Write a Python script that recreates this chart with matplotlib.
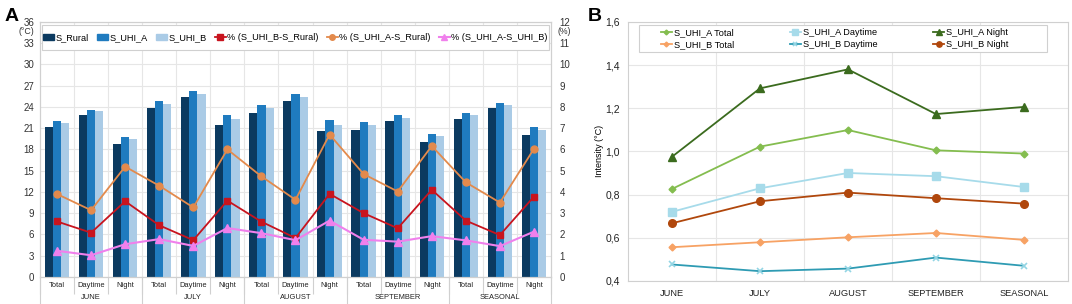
import numpy as np
import matplotlib
matplotlib.use('Agg')
import matplotlib.pyplot as plt
import matplotlib.transforms as mtransforms
from matplotlib.ticker import FuncFormatter
from matplotlib.patches import Patch, Rectangle
from matplotlib.lines import Line2D

plt.rcParams['font.family'] = ['Liberation Sans', 'DejaVu Sans']
plt.rcParams['font.size'] = 7

# --- data, panel A ---
months = ['JUNE', 'JULY', 'AUGUST', 'SEPTEMBER', 'SEASONAL']
periods = ['Total', 'Daytime', 'Night']
s_rural = [21.2, 22.9, 18.8, 23.8, 25.4, 21.5, 23.1, 24.9, 20.6, 20.8, 22.0, 19.1, 22.3, 23.8, 20.0]
s_uhi_a = [22.0, 23.6, 19.8, 24.8, 26.2, 22.8, 24.2, 25.8, 22.1, 21.8, 22.8, 20.2, 23.2, 24.6, 21.2]
s_uhi_b = [21.7, 23.4, 19.5, 24.4, 25.8, 22.3, 23.8, 25.4, 21.4, 21.4, 22.5, 19.9, 22.8, 24.3, 20.8]
pct_b_rural = [2.61, 2.08, 3.56, 2.43, 1.73, 3.59, 2.60, 1.83, 3.91, 3.00, 2.29, 4.10, 2.65, 1.97, 3.78]
pct_a_rural = [3.90, 3.14, 5.19, 4.29, 3.27, 6.00, 4.73, 3.63, 6.70, 4.84, 4.02, 6.16, 4.45, 3.50, 6.03]
pct_a_b = [1.23, 1.02, 1.54, 1.78, 1.46, 2.30, 2.06, 1.73, 2.65, 1.75, 1.66, 1.92, 1.72, 1.45, 2.13]

# --- data, panel B ---
a_total = [0.826, 1.022, 1.099, 1.005, 0.990]
a_day = [0.720, 0.829, 0.900, 0.885, 0.835]
a_night = [0.975, 1.292, 1.380, 1.173, 1.206]
b_total = [0.556, 0.579, 0.602, 0.622, 0.590]
b_day = [0.476, 0.445, 0.457, 0.508, 0.470]
b_night = [0.667, 0.769, 0.809, 0.783, 0.758]

grid_c = '#e6e6e6'
frame_c = '#d0d0d0'

fig = plt.figure(figsize=(10.72, 3.04), dpi=100)

# ---------------- panel A ----------------
ax = fig.add_axes([0.0373, 0.089, 0.4767, 0.839])
n = len(s_rural)
x = np.arange(n)
w = 0.24
ax.bar(x - w, s_rural, w, color='#0b3a60', zorder=2)
ax.bar(x, s_uhi_a, w, color='#1f7bbf', zorder=2)
ax.bar(x + w, s_uhi_b, w, color='#aacbe6', zorder=2)
ax.set_xlim(-0.5, n - 0.5)
ax.set_ylim(0, 36)
ax.set_yticks(np.arange(0, 37, 3))
ax.grid(axis='y', color=grid_c, lw=0.8, zorder=0)
for b in np.arange(0.5, n - 0.5, 1):
    ax.axvline(b, color=grid_c, lw=0.8, zorder=0)
for s in ax.spines.values():
    s.set_color(frame_c)
ax.tick_params(axis='y', length=0, pad=4, labelsize=7, colors='#333333')
ax.set_xticks(x)
ax.set_xticklabels(periods * len(months), fontsize=5.4)
ax.tick_params(axis='x', length=0, pad=4, colors='#222222')
ax.set_xticks(np.arange(-0.5, n, 1), minor=True)
ax.tick_params(axis='x', which='minor', length=12, color=frame_c, width=0.8)
trans = mtransforms.blended_transform_factory(ax.transData, ax.transAxes)
for i, m in enumerate(months):
    ax.text(3 * i + 1, -0.08, m, transform=trans, ha='center', va='center', fontsize=5.4, color='#222222')
for b in np.arange(-0.5, n, 3):
    ax.plot([b, b], [0, -0.11], transform=trans, color=frame_c, lw=0.8, clip_on=False)
ax.text(-0.012, 0.963, '(°C)', transform=ax.transAxes, ha='right', va='center', fontsize=6.3, color='#333333')

ax2 = ax.twinx()
ax2.set_ylim(0, 12)
ax2.set_yticks(np.arange(0, 13, 1))
ax2.tick_params(axis='y', length=0, pad=6, labelsize=7, colors='#333333')
for s in ax2.spines.values():
    s.set_color(frame_c)
ax2.plot(x, pct_b_rural, color='#c8141e', lw=1.3, marker='s', ms=5, zorder=3)
ax2.plot(x, pct_a_rural, color='#e38a4c', lw=1.3, marker='o', ms=5, zorder=3)
ax2.plot(x, pct_a_b, color='#f080ec', lw=1.5, marker='^', ms=6, zorder=3)
ax2.text(1.012, 0.963, '(%)', transform=ax2.transAxes, ha='left', va='center', fontsize=6.3, color='#333333')

# legend box for panel A
ax2.add_patch(Rectangle((0.004, 0.890), 0.992, 0.098, transform=ax2.transAxes,
                        facecolor='white', edgecolor=frame_c, lw=0.8, zorder=4))
handles_a = [Patch(color='#0b3a60'), Patch(color='#1f7bbf'), Patch(color='#aacbe6'),
             Line2D([], [], color='#c8141e', marker='s', ms=4, lw=1.3),
             Line2D([], [], color='#e38a4c', marker='o', ms=4, lw=1.3),
             Line2D([], [], color='#f080ec', marker='^', ms=5, lw=1.5)]
labels_a = ['S_Rural', 'S_UHI_A', 'S_UHI_B', '% (S_UHI_B-S_Rural)', '% (S_UHI_A-S_Rural)', '% (S_UHI_A-S_UHI_B)']
leg = ax2.legend(handles_a, labels_a, ncol=6, loc='center', bbox_to_anchor=(0.5, 0.939),
                 fontsize=6.6, frameon=False, handlelength=1.2, handletextpad=0.15,
                 columnspacing=0.9, borderpad=0, borderaxespad=0)

fig.text(0.004, 0.975, 'A', fontsize=14, fontweight='bold', va='top', ha='left')

# ---------------- panel B ----------------
bx = fig.add_axes([0.5858, 0.076, 0.4104, 0.852])
xm = np.arange(len(months))
bx.plot(xm, a_total, color='#84bd4f', lw=1.3, marker='D', ms=3.5, label='S_UHI_A Total')
bx.plot(xm, b_total, color='#f7a264', lw=1.3, marker='D', ms=3.5, label='S_UHI_B Total')
bx.plot(xm, a_day, color='#a7dbea', lw=1.3, marker='s', ms=5.5, label='S_UHI_A Daytime')
bx.plot(xm, b_day, color='#2e9bb3', lw=1.3, marker='x', ms=5, mec='#93d5e4', mew=1.2, label='S_UHI_B Daytime')
bx.plot(xm, a_night, color='#3b6b1e', lw=1.3, marker='^', ms=5.5, label='S_UHI_A Night')
bx.plot(xm, b_night, color='#b0470c', lw=1.3, marker='o', ms=5.5, label='S_UHI_B Night')
bx.set_xlim(-0.5, len(months) - 0.5)
bx.set_ylim(0.4, 1.6)
bx.set_yticks(np.arange(0.4, 1.61, 0.2))
bx.yaxis.set_major_formatter(FuncFormatter(lambda v, p: f'{v:.1f}'.replace('.', ',')))
bx.set_xticks(xm)
bx.set_xticklabels(months, fontsize=6.7)
bx.grid(axis='y', color=grid_c, lw=0.8, zorder=0)
for b in np.arange(0.5, len(months) - 0.5, 1):
    bx.axvline(b, color=grid_c, lw=0.8, zorder=0)
for s in bx.spines.values():
    s.set_color(frame_c)
bx.tick_params(length=0, labelsize=7.5, colors='#222222')
bx.tick_params(axis='y', pad=6)
bx.tick_params(axis='x', pad=6, labelsize=6.7)
bx.set_ylabel('Intensity (°C)', fontsize=6.5, labelpad=1)

# legend box for panel B
bx.add_patch(Rectangle((0.025, 0.884), 0.927, 0.104, transform=bx.transAxes,
                       facecolor='white', edgecolor=frame_c, lw=0.8, zorder=4))
legb = bx.legend(ncol=3, loc='center left', bbox_to_anchor=(0.075, 0.936), fontsize=6.6,
                 frameon=False, handlelength=1.2, handletextpad=0.2, columnspacing=6.1,
                 borderpad=0, labelspacing=0.3, markerscale=0.7, borderaxespad=0)

fig.text(0.548, 0.975, 'B', fontsize=14, fontweight='bold', va='top', ha='left')

fig.savefig('out.png', dpi=100)
